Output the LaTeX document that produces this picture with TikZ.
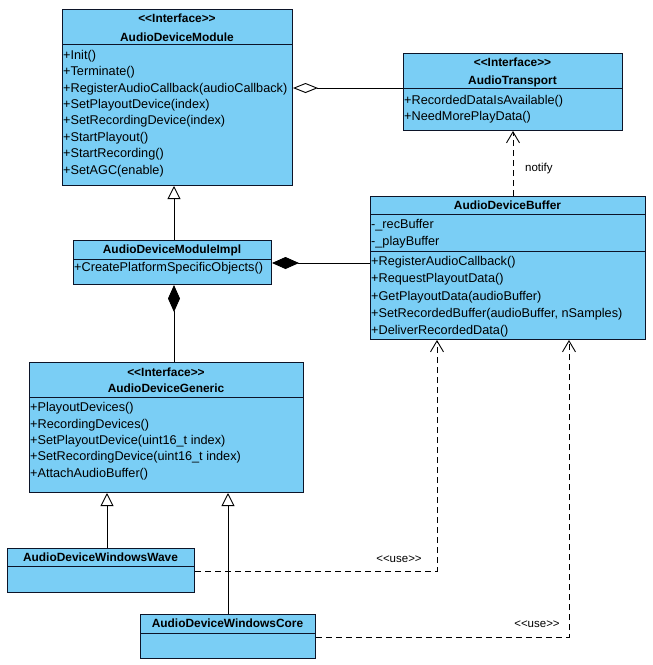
\documentclass[tikz,border=0pt]{standalone}
\usepackage{fontspec}
\setmainfont{Liberation Sans}
\usetikzlibrary{arrows.meta}
\definecolor{cls}{RGB}{122,206,245}
\definecolor{edge}{RGB}{12,20,40}
\begin{document}
\begin{tikzpicture}[x=1pt,y=-1pt,
  classbox/.style={draw=edge, fill=cls, line width=1pt, inner sep=0pt, anchor=north west},
  ttl/.style={font=\fontsize{11.9}{13}\selectfont\bfseries, inner sep=0pt, anchor=center},
  mem/.style={font=\fontsize{12.7}{14}\selectfont, inner sep=0pt, anchor=west},
  lbl/.style={font=\fontsize{11.5}{13}\selectfont, inner sep=0pt},
  divline/.style={draw=edge, line width=1pt},
  conn/.style={draw=black, line width=0.9pt},
  gen/.style={conn, -{Triangle[open, length=13pt, width=13pt]}},
  agg/.style={conn, -{Diamond[open, length=25pt, width=10pt]}},
  comp/.style={conn, -{Diamond[length=27pt, width=12pt]}},
  dep/.style={conn, dash pattern=on 6pt off 4pt, -{Straight Barb[length=11pt, width=13pt]}}
]
\useasboundingbox[fill=white] (0,0) rectangle (653,665);

% AudioDeviceModule
\node[classbox, minimum width=230pt, minimum height=176pt] (adm) at (62,9) {};
\draw[divline] (adm.west |- 0,44) -- (adm.east |- 0,44);
\node[ttl] (adm-s) at (177,18) {{<}{<}Interface{>}{>}};
\node[ttl] (adm-n) at (177,37) {AudioDeviceModule};
\node[mem] (adm-m1) at (63,56) {+Init()};
\node[mem] (adm-m2) at (63,72) {+Terminate()};
\node[mem] (adm-m3) at (63,89) {+RegisterAudioCallback(audioCallback)};
\node[mem] (adm-m4) at (63,105) {+SetPlayoutDevice(index)};
\node[mem] (adm-m5) at (63,121) {+SetRecordingDevice(index)};
\node[mem] (adm-m6) at (63,138) {+StartPlayout()};
\node[mem] (adm-m7) at (63,154) {+StartRecording()};
\node[mem] (adm-m8) at (63,171) {+SetAGC(enable)};

% AudioTransport
\node[classbox, minimum width=219pt, minimum height=77pt] (at) at (403,53) {};
\draw[divline] (at.west |- 0,88) -- (at.east |- 0,88);
\node[ttl] (at-s) at (512.5,62) {{<}{<}Interface{>}{>}};
\node[ttl] (at-n) at (512.5,81) {AudioTransport};
\node[mem] (at-m1) at (404,101) {+RecordedDataIsAvailable()};
\node[mem] (at-m2) at (404,117) {+NeedMorePlayData()};

% AudioDeviceModuleImpl
\node[classbox, minimum width=198pt, minimum height=44pt] (impl) at (73,240) {};
\draw[divline] (impl.west |- 0,259) -- (impl.east |- 0,259);
\node[ttl] (impl-n) at (172,250) {AudioDeviceModuleImpl};
\node[mem] (impl-m1) at (74,268) {+CreatePlatformSpecificObjects()};

% AudioDeviceBuffer
\node[classbox, minimum width=275pt, minimum height=143pt] (buf) at (370,196) {};
\draw[divline] (buf.west |- 0,214) -- (buf.east |- 0,214);
\draw[divline] (buf.west |- 0,251) -- (buf.east |- 0,251);
\node[ttl] (buf-n) at (507.5,205) {AudioDeviceBuffer};
\node[mem] (buf-a1) at (371,225) {-\_recBuffer};
\node[mem] (buf-a2) at (371,242) {-\_playBuffer};
\node[mem] (buf-m1) at (371,262) {+RegisterAudioCallback()};
\node[mem] (buf-m2) at (371,279) {+RequestPlayoutData()};
\node[mem] (buf-m3) at (371,297) {+GetPlayoutData(audioBuffer)};
\node[mem] (buf-m4) at (371,314) {+SetRecordedBuffer(audioBuffer, nSamples)};
\node[mem] (buf-m5) at (371,331) {+DeliverRecordedData()};

% AudioDeviceGeneric
\node[classbox, minimum width=274pt, minimum height=130pt] (gen) at (29,362) {};
\draw[divline] (gen.west |- 0,397) -- (gen.east |- 0,397);
\node[ttl] (gen-s) at (166,372) {{<}{<}Interface{>}{>}};
\node[ttl] (gen-n) at (166,388) {AudioDeviceGeneric};
\node[mem] (gen-m1) at (30,408) {+PlayoutDevices()};
\node[mem] (gen-m2) at (30,425) {+RecordingDevices()};
\node[mem] (gen-m3) at (30,441) {+SetPlayoutDevice(uint16\_t index)};
\node[mem] (gen-m4) at (30,457) {+SetRecordingDevice(uint16\_t index)};
\node[mem] (gen-m5) at (30,474) {+AttachAudioBuffer()};

% AudioDeviceWindowsWave
\node[classbox, minimum width=187pt, minimum height=44pt] (wave) at (7,548) {};
\draw[divline] (wave.west |- 0,566) -- (wave.east |- 0,566);
\node[ttl] (wave-n) at (100.5,557) {AudioDeviceWindowsWave};

% AudioDeviceWindowsCore
\node[classbox, minimum width=175pt, minimum height=44pt] (core) at (140,614) {};
\draw[divline] (core.west |- 0,633) -- (core.east |- 0,633);
\node[ttl] (core-n) at (227.5,623) {AudioDeviceWindowsCore};

% connectors
\draw[gen] (impl.north -| 174,0) -- (adm.south -| 174,0);
\draw[agg] (at.west |- 0,88) -- (adm.east |- 0,88);
\draw[comp] (buf.west |- 0,263) -- (impl.east |- 0,263);
\draw[comp] (gen.north -| 174,0) -- (impl.south -| 174,0);
\draw[dep] (buf.north -| 513,0) -- (at.south -| 513,0);
\node[lbl, anchor=west] (l-notify) at (525,169) {notify};
\draw[gen] (wave.north -| 107,0) -- (gen.south -| 107,0);
\draw[gen] (core.north -| 228,0) -- (gen.south -| 228,0);
\coordinate (c1) at (437,571);
\coordinate (c2) at (569,637);
\draw[dep] (wave.east |- c1) -- (c1) -- (buf.south -| c1);
\draw[dep] (core.east |- c2) -- (c2) -- (buf.south -| c2);
\node[lbl] (l-use1) at (399,559) {{<}{<}use{>}{>}};
\node[lbl] (l-use2) at (537,624) {{<}{<}use{>}{>}};
\end{tikzpicture}
\end{document}
